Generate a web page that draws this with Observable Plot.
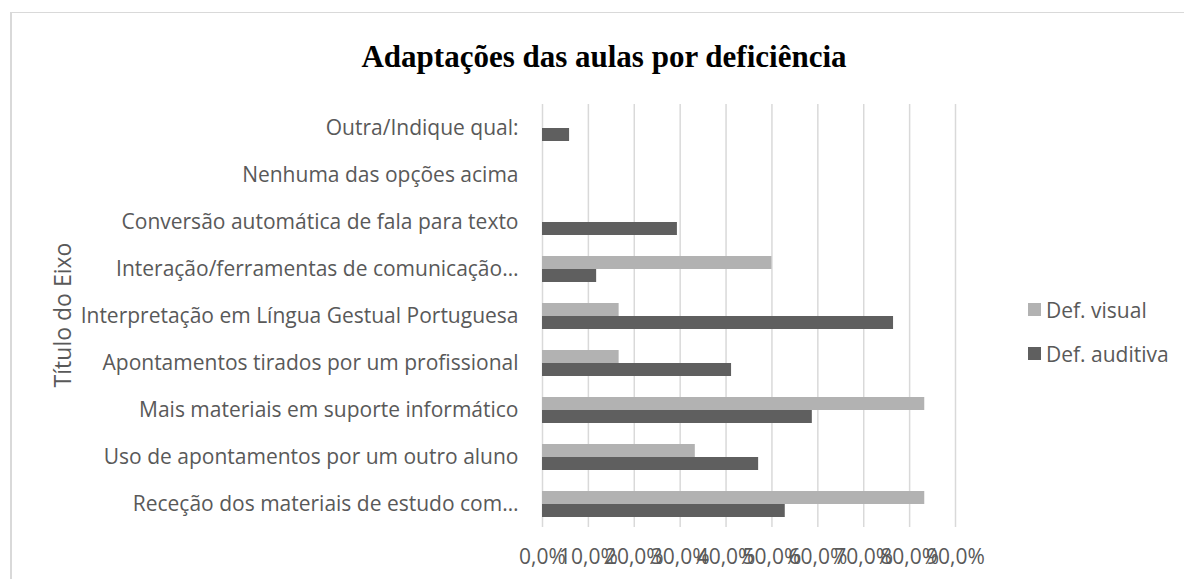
<!DOCTYPE html>
<html>
<head>
<meta charset="utf-8">
<script src="https://cdn.jsdelivr.net/npm/d3@7"></script>
<script src="https://cdn.jsdelivr.net/npm/@observablehq/plot@0.6"></script>
<style>
  html, body { margin: 0; padding: 0; background: #fff; }
  #wrap { position: relative; width: 1184px; height: 579px; overflow: hidden; font-family: "Open Sans", sans-serif; }
  #frame { position: absolute; left: 10px; top: 12px; width: 1300px; height: 700px; border-top: 1px solid #d9d9d9; border-left: 2px solid #d9d9d9; }
  #title { position: absolute; left: 0; width: 1208px; top: 39px; text-align: center; font-family: "Liberation Serif", serif; font-weight: bold; font-size: 31px; color: #000; }
  #chart { position: absolute; left: 0; top: 0; }
  #ytitle { position: absolute; left: 62px; top: 315px; transform: translate(-50%, -50%) rotate(-90deg); font-size: 23px; color: #595959; white-space: nowrap; }
  .leg { position: absolute; left: 1028px; font-size: 21px; color: #595959; white-space: nowrap; }
  .sw { position: absolute; left: 0; width: 13px; height: 13px; }
  .lt { position: absolute; left: 18px; line-height: 28px; }
</style>
</head>
<body>
<div id="wrap">
  <div id="frame"></div>
  <div id="chart"></div>
  <div id="title">Adaptações das aulas por deficiência</div>
  <div id="ytitle">Título do Eixo</div>
  <div id="legend"></div>
</div>
<script>
const categories = [
  "Outra/Indique qual:",
  "Nenhuma das opções acima",
  "Conversão automática de fala para texto",
  "Interação/ferramentas de comunicação…",
  "Interpretação em Língua Gestual Portuguesa",
  "Apontamentos tirados por um profissional",
  "Mais materiais em suporte informático",
  "Uso de apontamentos por um outro aluno",
  "Receção dos materiais de estudo com…"
];
const series = ["Def. visual", "Def. auditiva"];
const seriesColors = ["#b2b2b2", "#5f5f5f"];
const visual   = [0, 0, 0, 0.5, 0.167, 0.167, 0.833, 0.333, 0.833];
const auditiva = [0.059, 0, 0.294, 0.118, 0.765, 0.412, 0.588, 0.471, 0.529];
const xTicks = [0, 0.1, 0.2, 0.3, 0.4, 0.5, 0.6, 0.7, 0.8, 0.9];
const xTickLabels = ["0,0%", "10,0%", "20,0%", "30,0%", "40,0%", "50,0%", "60,0%", "70,0%", "80,0%", "90,0%"];

const rows = categories.flatMap((c, i) => [
  {cat: c, serie: series[0], v: visual[i]},
  {cat: c, serie: series[1], v: auditiva[i]}
]);

const chart = Plot.plot({
  width: 1184,
  height: 579,
  marginLeft: 542,
  marginRight: 229,
  marginTop: 103,
  marginBottom: 52,
  style: {fontFamily: "Open Sans", color: "#595959", background: "transparent", overflow: "visible"},
  x: {domain: [0, 0.9]},
  fy: {domain: categories, padding: 0},
  y: {domain: series, paddingInner: 0, paddingOuter: 0.744, axis: null},
  color: {domain: series, range: seriesColors},
  marks: [
    Plot.ruleX(xTicks, {x: d => d, stroke: "#d9d9d9", strokeWidth: 1.5}),
    Plot.barX(rows, {fy: "cat", y: "serie", x: "v", fill: "serie"}),
    Plot.axisFy({anchor: "left", tickSize: 0, tickPadding: 24, fontSize: 21, fill: "#595959", label: null}),
    Plot.axisX({ticks: xTicks, tickFormat: d => xTickLabels[xTicks.indexOf(d)], tickSize: 0, tickPadding: 22, fontSize: 21, fill: "#595959", label: null})
  ]
});
document.getElementById("chart").appendChild(chart);

const legend = document.getElementById("legend");
const legTops = [303, 347];
series.forEach((s, i) => {
  const item = document.createElement("div");
  item.className = "leg";
  item.style.top = legTops[i] + "px";
  const sw = document.createElement("div");
  sw.className = "sw";
  sw.style.background = seriesColors[i];
  item.appendChild(sw);
  const t = document.createElement("span");
  t.className = "lt";
  t.style.top = "-7px";
  t.textContent = s;
  item.appendChild(t);
  legend.appendChild(item);
});
</script>
</body>
</html>
